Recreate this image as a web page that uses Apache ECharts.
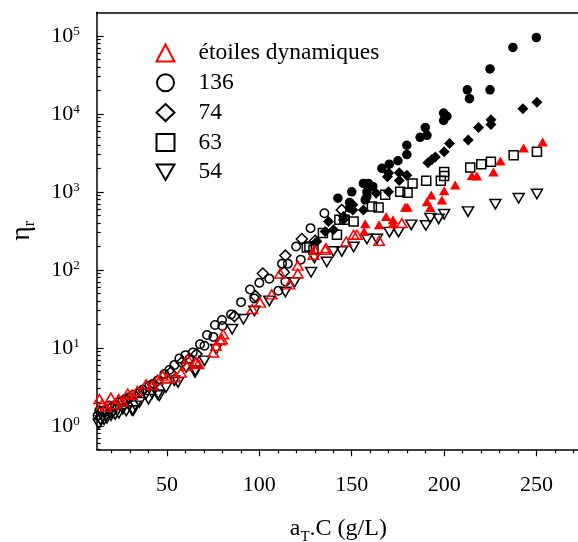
<!DOCTYPE html>
<html><head><meta charset="utf-8">
<script src="https://cdn.jsdelivr.net/npm/echarts@6/dist/echarts.min.js"></script>
<style>html,body{margin:0;padding:0;background:#fff}#c{width:578px;height:542px}</style>
</head><body><div id="c"></div>
<script>
// ---- axis ranges & ticks ----
const X_MIN = 12, X_MAX = 273.5;
const Y_MIN = 0.5, Y_MAX = 2e5;
const xMajorTicks = [50, 100, 150, 200, 250];
const xMinorTicks = [20, 30, 40, 60, 70, 80, 90, 110, 120, 130, 140, 160, 170, 180, 190, 210, 220, 230, 240, 260, 270];
const yDecades = [0, 1, 2, 3, 4, 5];
const yMinorMultipliers = [2, 3, 4, 5, 6, 7, 8, 9];
const legendNames = ['étoiles dynamiques', '136', '74', '63', '54'];

// ---- data [aT.C, eta_r] ----
const etoilesOpen = [[13.4,2.2],[15,1.9],[17,1.75],[19.7,2.3],[22,1.9],[23.9,2.2],[26,2.05],[28.8,2.6],[31,2.5],[34,2.8],[38.7,3.4],[42,3.3],[45,3.9],[47.7,4.4],[50,4.1],[54.4,4.2],[57.6,4.8],[60.7,5.9],[61.3,7.2],[65.8,6.5],[67,6.2],[75.1,8.7],[76.6,10.6],[78.9,12.5],[79.8,12.9],[80.5,14.9],[96.2,31.5],[100.4,38],[106.7,48.4],[111.2,89.5],[116.3,65],[120.8,89.5],[120.8,113],[129.3,156],[129.8,181],[135.6,181],[136.1,190],[147,231],[151,281],[152.8,281],[164.8,236],[177.1,396]];
const etoilesFilled = [[156.7,310],[157.3,388],[164.8,377],[168.6,481],[172.3,388],[172.3,437],[178.9,634],[180.2,634],[190.7,748],[192.5,627],[193,910],[198.8,786],[200,1030],[206,1220],[215,1600],[217.7,1590],[226.7,1800],[230.4,2490],[243,3650],[253.3,4360]];
const c136Open = [[12.5,1.35],[13.4,1.57],[15,1.55],[16.5,1.6],[18.8,1.82],[20,1.7],[22,1.85],[24.2,2.0],[26,2.1],[27.5,2.2],[29.7,2.32],[32,2.5],[35.1,2.69],[37,2.9],[40.5,3.27],[42,3.4],[45,3.8],[48.6,4.6],[51.3,5.2],[54,6.0],[56.7,7.3],[60,8.05],[62,7.2],[64,8.7],[67.9,11.1],[70.3,10.6],[71.7,14.6],[75.1,13.8],[76,19.6],[79.8,22.7],[80,19],[84.7,26.8],[90.1,38.5],[95,56],[97.3,43],[100,68],[105.4,77],[110.3,54],[112.3,120],[114.1,71],[115.4,120],[119.9,199],[122.4,135],[127.7,342],[135.2,532]];
const c136Filled = [[142.5,827],[148.8,727],[148.8,620],[150,1000],[156.3,1280],[157.3,786],[158.2,870],[158.2,1000],[159,1280],[161.4,1170],[166.3,2000],[170.3,2260],[175,2500],[179.8,3000],[179.8,3950],[187,5000],[189.8,6650],[190.7,5300],[199.7,10200],[199.7,8200],[201.5,9300],[212.5,20300],[213.7,15600],[224.8,20300],[224.8,37600],[237.2,71000],[249.9,95000]];
const c74Open = [[14,1.25],[20,1.5],[28,2.1],[36,2.8],[43,3.4],[52,4.8],[58,6.5],[66,8.3],[86.5,25.5],[97.9,46],[101.9,89.5],[113.3,93],[114.1,152],[123,248],[130.2,236],[144.6,586]];
const c74Filled = [[131.1,231],[135.6,310],[137.4,415],[140.1,325],[145.5,437],[145.5,481],[150.6,585],[150.6,680],[156.3,585],[163.2,956],[169.9,1000],[169.3,1560],[170,1740],[175.7,1750],[175.7,1400],[179.8,1630],[191.2,2350],[193.4,2600],[195.2,2800],[200,3250],[202.9,4160],[213,4600],[218.6,6650],[225.3,7300],[225.3,8400],[242.6,11600],[250.2,14100]];
const c63Open = [[125.7,193],[127.1,199],[129.3,181],[134.4,296],[142,281],[143.3,437],[146.1,437],[151,416],[160.9,646],[164.5,627],[168.1,915],[176.2,1000],[180.2,975],[182.9,1280],[190.3,1390],[198.2,1390],[200,1590],[200,1800],[214.1,2050],[220.1,2260],[225.3,2420],[237.6,2950],[250.2,3250]];
const c54Open = [[13.1,1.06],[14.3,1.17],[16,1.2],[17.5,1.25],[19.7,1.35],[22,1.4],[24,1.45],[26.1,1.65],[28,1.55],[31.1,1.57],[31.8,1.57],[33,1.8],[35.1,2.0],[38.7,2.56],[40,2.2],[42,2.6],[45,2.5],[45.9,2.44],[49.5,3.1],[54,3.8],[56,3.6],[60.4,5.6],[65.2,4.84],[65.4,5.1],[70.3,6.8],[76.6,9.6],[85.3,17.3],[91.4,23.2],[97.3,29.6],[105.4,40],[114.1,52],[119,69],[128,93],[129.8,142],[136.5,126],[140.1,172],[144.6,172],[151,196],[158.2,248],[163.6,248],[170.4,304],[175.3,304],[182.2,377],[190.1,370],[192.5,459],[197,450],[200,516],[212.9,557],[227.7,692],[240.3,827],[250.2,937]];

// ---- derived tick values (log units for the tick axes) ----
const LOG_MIN = Math.log10(Y_MIN), LOG_MAX = Math.log10(Y_MAX);
const yMinorLog = [];
[-1, 0, 1, 2, 3, 4, 5].forEach(d => yMinorMultipliers.forEach(m => {
  const v = d + Math.log10(m);
  if (v > LOG_MIN - 1e-9 && v < LOG_MAX) yMinorLog.push(v);
}));

const FONT = 'Liberation Serif';
const gridBox = { left: 96.7, right: -2, top: 12.3, bottom: 92.7, containLabel: false, outerBoundsMode: 'none' };
const invTri = 'path://M0,0L10,0L5,8.66Z';

function openStyle(c) { return { color: 'transparent', borderColor: c, borderWidth: 1.5, opacity: 1 }; }
function fillStyle(c) { return { color: c, opacity: 1 }; }

const chart = echarts.init(document.getElementById('c'), null, { renderer: 'canvas' });
chart.setOption({
  animation: false,
  backgroundColor: '#fff',
  grid: [
    Object.assign({}, gridBox),
    Object.assign({}, gridBox),
    Object.assign({}, gridBox)
  ],
  legend: {
    orient: 'vertical', left: 150.5, top: 36,
    itemWidth: 18, itemHeight: 17, itemGap: 5.8,
    data: legendNames,
    textStyle: { fontFamily: FONT, fontSize: 23.5, color: '#000', lineHeight: 23, padding: [0, 0, 0, 19] }
  },
  xAxis: [
    { gridIndex: 0, type: 'value', min: X_MIN, max: X_MAX, position: 'bottom',
      axisLine: { show: true, onZero: false, lineStyle: { color: '#000', width: 1.5 } },
      axisTick: { show: true, customValues: xMajorTicks, length: 7, lineStyle: { color: '#000', width: 1.2 } },
      axisLabel: { customValues: xMajorTicks, fontFamily: FONT, fontSize: 22, color: '#000', margin: 25 },
      splitLine: { show: false },
      name: '{a|a}{t|T}{a|.C (g/L)}', nameLocation: 'middle', nameGap: 67,
      nameTextStyle: { rich: {
        a: { fontFamily: FONT, fontSize: 24, color: '#000', lineHeight: 24, verticalAlign: 'top' },
        t: { fontFamily: FONT, fontSize: 15, color: '#000', lineHeight: 42 }
      } }
    },
    { gridIndex: 1, type: 'value', min: X_MIN, max: X_MAX, position: 'bottom',
      axisLine: { show: false, onZero: false },
      axisTick: { show: true, customValues: xMinorTicks, length: 4, lineStyle: { color: '#000', width: 1.2 } },
      axisLabel: { show: false }, splitLine: { show: false } },
    { gridIndex: 2, type: 'value', min: X_MIN, max: X_MAX, position: 'top',
      axisLine: { show: true, onZero: false, lineStyle: { color: '#000', width: 1.5 } },
      axisTick: { show: false }, axisLabel: { show: false }, splitLine: { show: false } }
  ],
  yAxis: [
    { gridIndex: 0, type: 'log', min: Y_MIN, max: Y_MAX, show: false,
      axisLine: { onZero: false }, splitLine: { show: false } },
    { gridIndex: 1, type: 'value', min: LOG_MIN, max: LOG_MAX, position: 'left',
      axisLine: { show: true, onZero: false, lineStyle: { color: '#000', width: 1.5 } },
      axisTick: { show: true, inside: true, customValues: yDecades, length: 7, lineStyle: { color: '#000', width: 1.2 } },
      axisLabel: { customValues: yDecades, margin: 17,
        formatter: v => '{b|10}{s|' + Math.round(v) + '}',
        rich: {
          b: { fontFamily: FONT, fontSize: 22, color: '#000', lineHeight: 22 },
          s: { fontFamily: FONT, fontSize: 13, color: '#000', lineHeight: 13, verticalAlign: 'top' }
        } },
      splitLine: { show: false },
      name: '{e|η}{r|r}', nameLocation: 'middle', nameGap: 45, nameRotate: 90,
      nameTextStyle: { rich: {
        e: { fontFamily: FONT, fontSize: 28, color: '#000', lineHeight: 28, verticalAlign: 'top' },
        r: { fontFamily: FONT, fontSize: 16, color: '#000', lineHeight: 44 }
      } }
    },
    { gridIndex: 2, type: 'value', min: LOG_MIN, max: LOG_MAX, position: 'left',
      axisLine: { show: false, onZero: false },
      axisTick: { show: true, inside: true, customValues: yMinorLog, length: 4, lineStyle: { color: '#000', width: 1.2 } },
      axisLabel: { show: false }, splitLine: { show: false } }
  ],
  series: [
    { name: '54', type: 'scatter', xAxisIndex: 0, yAxisIndex: 0, data: c54Open,
      symbol: invTri, symbolSize: [11, 9.5], itemStyle: openStyle('#000') },
    { name: '63', type: 'scatter', xAxisIndex: 0, yAxisIndex: 0, data: c63Open,
      symbol: 'rect', symbolSize: 9, itemStyle: openStyle('#000') },
    { name: '74', type: 'scatter', xAxisIndex: 0, yAxisIndex: 0, data: c74Open,
      symbol: 'diamond', symbolSize: 11, itemStyle: openStyle('#000') },
    { name: '136', type: 'scatter', xAxisIndex: 0, yAxisIndex: 0, data: c136Open,
      symbol: 'circle', symbolSize: 8.5, itemStyle: openStyle('#000') },
    { name: 'étoiles dynamiques', type: 'scatter', xAxisIndex: 0, yAxisIndex: 0, data: etoilesOpen,
      symbol: 'triangle', symbolSize: [10.5, 9], itemStyle: openStyle('#ff0000') },
    { name: '74 gel', type: 'scatter', xAxisIndex: 0, yAxisIndex: 0, data: c74Filled,
      symbol: 'diamond', symbolSize: 11, itemStyle: fillStyle('#000') },
    { name: '136 gel', type: 'scatter', xAxisIndex: 0, yAxisIndex: 0, data: c136Filled,
      symbol: 'circle', symbolSize: 9.5, itemStyle: fillStyle('#000') },
    { name: 'étoiles gel', type: 'scatter', xAxisIndex: 0, yAxisIndex: 0, data: etoilesFilled,
      symbol: 'triangle', symbolSize: [10.5, 9], itemStyle: fillStyle('#ff0000') }
  ]
});
</script>
</body></html>
